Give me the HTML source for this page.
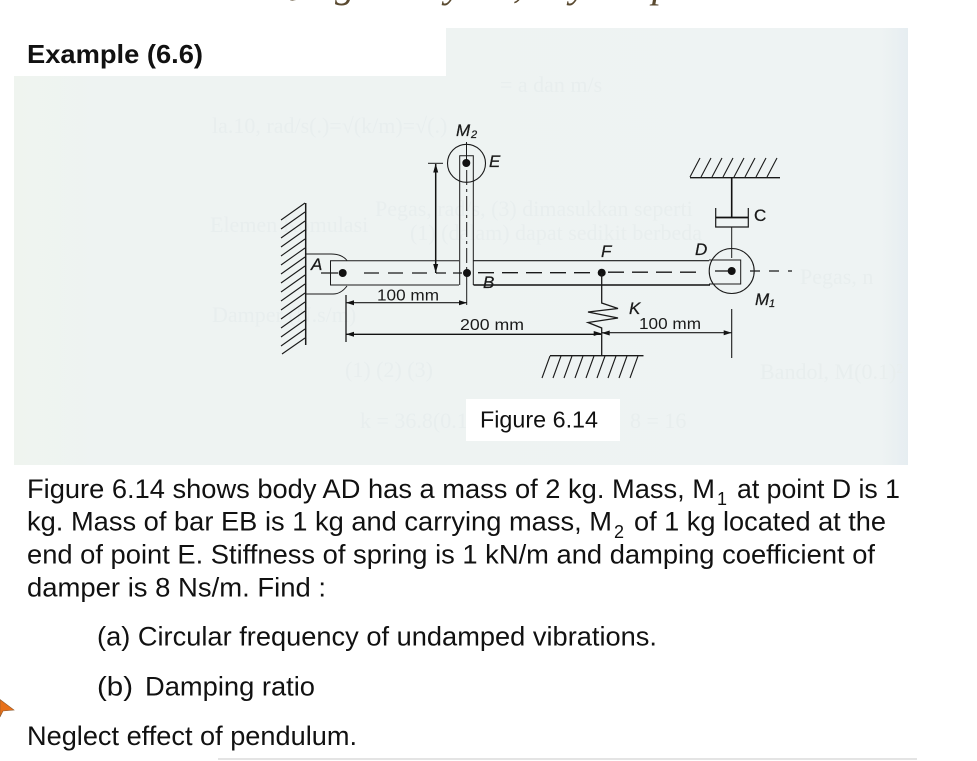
<!DOCTYPE html>
<html><head><meta charset="utf-8"><style>
html,body{margin:0;padding:0;background:#fff}
svg{display:block}
.t{font-family:"Liberation Sans",Arial,sans-serif;font-size:27px;fill:#111}
.l{font-family:"Liberation Sans",Arial,sans-serif;font-size:15.5px;fill:#1a1a1a}
.i{font-family:"Liberation Sans",Arial,sans-serif;font-size:17px;font-style:italic;fill:#1a1a1a;stroke:#1a1a1a;stroke-width:.25}
.s{font-size:11px}
.g{font-family:"Liberation Serif",serif;font-size:22px;fill:#e8eeee}
.k{stroke:#1a1a1a;fill:none}
</style></head><body>
<svg width="977" height="761" viewBox="0 0 977 761" xmlns="http://www.w3.org/2000/svg">
<defs><linearGradient id="bg" x1="0" x2="1" y1="0" y2="0">
<stop offset="0" stop-color="#eff4ef"/><stop offset=".1" stop-color="#eef3f2"/><stop offset=".97" stop-color="#eef3f3"/><stop offset="1" stop-color="#e6edf1"/></linearGradient></defs>
<rect x="14" y="28" width="894" height="437" fill="url(#bg)"/>
<rect x="14" y="28" width="432" height="48" fill="#fff"/>

<g class="g">
<text x="212" y="133">la.10, rad/s(.)=√(k/m)=√(.)</text>
<text x="375" y="216">Pegas, rad/s, (3) dimasukkan seperti</text>
<text x="210" y="232">Elemen   Komulasi</text>
<text x="410" y="240">(1) (dalam) dapat sedikit berbeda</text>
<text x="800" y="284">Pegas, n</text>
<text x="212" y="322">Damper (N.s/m)</text>
<text x="760" y="379">Bandol, M(0.1)²</text>
<text x="345" y="377">(1)      (2)       (3)</text>
<text x="360" y="428">k = 36.8(0.1)²</text>
<text x="630" y="428">8 = 16</text>
<text x="500" y="92">= a  dan  m/s</text>
</g>

<rect x="466" y="399" width="154" height="42" fill="#fff"/>

<!-- clipped top text -->
<g font-family="Liberation Serif,serif" font-style="italic" font-size="40" fill="#5a4a30">
<text x="272" y="-6">Q</text><text x="335" y="-3">g</text><text x="445" y="-3">y</text><text x="513" y="-3">,</text><text x="570" y="-3">y</text><text x="652" y="-3">p</text>
</g>

<!-- wall -->
<path class="k" stroke-width="1.5" d="M305.7 203V345"/>
<path class="k" stroke-width="1.1" d="M305 203l-24 17M305 212l-24 17M305 221l-24 17M305 230l-24 17M305 239l-24 17M305 248l-24 17M305 257l-24 17M305 266l-24 17M305 275l-24 17M305 284l-24 17M305 293l-24 17M305 302l-24 17M305 311l-24 17M305 320l-24 17M305 329l-24 17M305 338l-23 16"/>
<!-- mount -->
<path class="k" stroke-width="1" d="M305.7 254H331Q342 254 347 260.5M305.7 294H333Q341 294 347 286"/>

<!-- bar AD -->
<path class="k" stroke-width="1" d="M459 260.7H330.5V285H459"/>
<path stroke="#1a1a1a" stroke-width="1.1" fill="none" d="M473.5 260.7H709"/>
<path stroke="#111" stroke-width="1.5" fill="none" d="M473.5 285H710"/>
<path class="k" stroke-width="1" d="M709 260H740.7V284H709"/>
<!-- vertical bar -->
<path class="k" stroke-width="1" d="M459.7 285V155.7H473.3V285"/>
<circle class="k" stroke-width="1.1" cx="466.5" cy="163.3" r="19"/>
<path class="k" stroke-width="1" d="M466.5 142V163"/>
<path class="k" stroke-width="1" stroke-dasharray="15 4 3 4" d="M466.7 170V285"/>
<path class="k" stroke-width="1" d="M466.7 285V305"/>

<!-- centerline -->
<path class="k" stroke-width="1.3" d="M321 273H338"/>
<path class="k" stroke-width="1.3" stroke-dasharray="15 9" d="M364 273H437"/>
<path class="k" stroke-width="1.3" stroke-dasharray="10 7" d="M436 273H462"/>
<path class="k" stroke-width="1.3" stroke-dasharray="16 8" d="M478 272.7H598"/>
<path class="k" stroke-width="1.3" stroke-dasharray="16 8" d="M608 272.2H704"/>
<path class="k" stroke-width="1.3" d="M715 271H731"/>
<path class="k" stroke-width="1.3" stroke-dasharray="10 9" d="M750 271H792"/>

<!-- dots -->
<g fill="#111"><circle cx="342.7" cy="273" r="4"/><circle cx="467" cy="273" r="4"/><circle cx="466.3" cy="163" r="4"/><circle cx="601.7" cy="272.7" r="4"/><circle cx="731.7" cy="271" r="4"/></g>

<!-- height dim -->
<path class="k" stroke-width="1" d="M428 163.3H443"/>
<path stroke="#111" stroke-width="1.5" fill="none" d="M435.7 164V273"/>
<path fill="#111" d="M435.7 163.5l-2.5 9h5zM435.7 273l-2.5-9h5z"/>

<!-- dims -->
<path class="k" stroke-width="1.3" d="M346 295V342"/>
<path stroke="#1a1a1a" stroke-width="1.1" fill="none" d="M346 302.7H467"/>
<path fill="#111" d="M346 302.7l8-2.5v5zM467 302.7l-8-2.5v5z"/>
<path stroke="#111" stroke-width="1.3" fill="none" d="M346 334.3H601"/>
<path fill="#111" d="M346 334.3l8-2.5v5zM601.7 333.5l-8-2.5v5zM601.7 333l8-2.5v5zM731.7 332.7l-8-2.5v5z"/>
<path stroke="#1a1a1a" stroke-width="1.1" fill="none" d="M602 332.7H731.7M731.7 309V358"/>

<!-- spring -->
<path class="k" stroke-width="1.3" d="M601.7 273V303L618 308.5 588 312 618 318 588 322.5 601.7 328V355.5"/>
<!-- bottom ground -->
<path class="k" stroke-width="1.3" d="M550 355.7H643.5"/>
<path class="k" stroke-width="1.1" d="M550 356l-8 22M561 356l-8 22M572 356l-8 22M583 356l-8 22M594 356l-8 22M605 356l-8 22M616 356l-8 22M627 356l-8 22M638 356l-8 22"/>

<!-- top ground -->
<path class="k" stroke-width="1.3" d="M690 177.7H780"/>
<path class="k" stroke-width="1.1" d="M690 177l10-19M701 177l10-19M712 177l10-19M723 177l10-19M734 177l10-19M745 177l10-19M756 177l10-19M767 177l10-19"/>
<!-- damper -->
<path stroke="#111" stroke-width="1.6" fill="none" d="M731.7 178V217"/>
<path class="k" stroke-width="1" d="M731.7 227V258"/>
<path class="k" stroke-width="1.2" d="M715.7 208V227H748.3V208"/>
<path stroke="#111" stroke-width="1.8" fill="none" d="M716 217.5H748"/>
<circle class="k" stroke-width="1.1" cx="731.7" cy="271" r="22.5"/>

<!-- figure labels -->
<text class="i" x="456" y="136">M</text>
<text class="i s" x="471" y="138">2</text>
<text class="i" x="489" y="167">E</text>
<text class="i" x="311" y="270">A</text>
<text class="i" x="483" y="288">B</text>
<text class="i" x="601" y="257">F</text>
<text class="i" x="695" y="255">D</text>
<text class="i" x="754" y="221" style="font-style:normal">C</text>
<text class="i" x="755" y="305">M</text>
<text class="i s" x="769" y="307">1</text>
<text class="i" x="629" y="314">K</text>
<text class="l" x="377" y="300.5" textLength="62" lengthAdjust="spacingAndGlyphs">100 mm</text>
<text class="l" x="460" y="330" textLength="64" lengthAdjust="spacingAndGlyphs">200 mm</text>
<text class="l" x="639" y="329" textLength="62" lengthAdjust="spacingAndGlyphs">100 mm</text>

<!-- text -->
<text class="t" x="27" y="63" style="font-weight:bold;font-size:26px" textLength="176" lengthAdjust="spacingAndGlyphs">Example (6.6)</text>
<text class="t" x="480" y="427.5" style="font-size:23.5px" textLength="118" lengthAdjust="spacingAndGlyphs">Figure 6.14</text>

<text class="t" x="27" y="498" textLength="688" lengthAdjust="spacingAndGlyphs">Figure 6.14 shows body AD has a mass of 2 kg. Mass, M</text>
<text class="t" x="717" y="505" style="font-size:18px">1</text>
<text class="t" x="737" y="498" textLength="163" lengthAdjust="spacingAndGlyphs">at point D is 1</text>
<text class="t" x="27" y="530.5" textLength="585" lengthAdjust="spacingAndGlyphs">kg. Mass of bar EB is 1 kg and carrying mass, M</text>
<text class="t" x="614" y="538" style="font-size:18px">2</text>
<text class="t" x="634" y="530.5" textLength="252" lengthAdjust="spacingAndGlyphs">of 1 kg located at the</text>
<text class="t" x="27" y="563.5" textLength="848" lengthAdjust="spacingAndGlyphs">end of point E. Stiffness of spring is 1 kN/m and damping coefficient of</text>
<text class="t" x="27" y="596.5" textLength="299" lengthAdjust="spacingAndGlyphs">damper is 8 Ns/m. Find :</text>
<text class="t" x="97" y="645.5" textLength="560" lengthAdjust="spacingAndGlyphs">(a) Circular frequency of undamped vibrations.</text>
<text class="t" x="97" y="695.5" textLength="36" lengthAdjust="spacingAndGlyphs">(b)</text>
<text class="t" x="145" y="695.5" textLength="170" lengthAdjust="spacingAndGlyphs">Damping ratio</text>
<text class="t" x="27" y="745" textLength="330" lengthAdjust="spacingAndGlyphs">Neglect effect of pendulum.</text>

<!-- orange arrow -->
<path d="M0 699.5L14 710 3 711 0 717z" fill="#e8701a" stroke="#8a5a30" stroke-width=".6"/>
<!-- bottom line -->
<path d="M218 759H917" stroke="#e4e4e4" stroke-width="2"/>
</svg>
</body></html>
